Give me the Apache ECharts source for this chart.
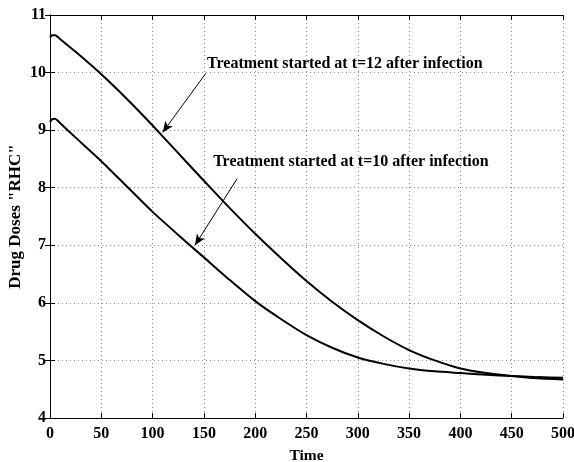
<!DOCTYPE html>
<html>
<head>
<meta charset="utf-8">
<script src="https://cdn.jsdelivr.net/npm/echarts@6/dist/echarts.min.js"></script>
<style>
html,body{margin:0;padding:0;background:#fff;}
#c{width:574px;height:462px;}
</style>
</head>
<body>
<div id="c"></div>
<script>
// ---- data ----
const time  = [0, 2, 5, 10, 25, 50, 75, 100, 125, 150, 175, 200, 225, 250, 275, 300, 325, 350, 375, 400, 425, 450, 475, 500];
const upper = [10.61, 10.65, 10.65, 10.58, 10.36, 9.97, 9.54, 9.08, 8.60, 8.12, 7.65, 7.20, 6.78, 6.38, 6.02, 5.70, 5.42, 5.18, 5.00, 4.86, 4.78, 4.73, 4.69, 4.67];
const lower = [9.14, 9.19, 9.20, 9.12, 8.87, 8.46, 8.02, 7.58, 7.18, 6.79, 6.40, 6.03, 5.72, 5.44, 5.22, 5.05, 4.94, 4.86, 4.81, 4.78, 4.75, 4.73, 4.71, 4.70];
const xTicks = [0, 50, 100, 150, 200, 250, 300, 350, 400, 450, 500];
const yTicks = [4, 5, 6, 7, 8, 9, 10, 11];
const label12 = 'Treatment started at t=12 after infection';
const label10 = 'Treatment started at t=10 after infection';
// annotation anchors in data coordinates
const text12At = [153, 10.15];
const text10At = [159, 8.45];
const arrow12 = [[152, 9.99], [109.8, 8.96]];
const arrow10 = [[182.5, 8.16], [141.3, 7.00]];

const FONT = "'Liberation Serif', 'Times New Roman', serif";
const pairs = (ys) => time.map((t, i) => [t, ys[i]]);

const chart = echarts.init(document.getElementById('c'), null, {renderer: 'canvas'});

const tickLabelStyle = {color: '#000', fontFamily: FONT, fontWeight: 'bold', fontSize: 16};
const gridLine = {show: true, lineStyle: {color: '#8a8a8a', width: 1, type: [1, 3]}};

function annText(coord, txt) {
  return {
    coord: coord, symbol: 'circle', symbolSize: 0, value: txt,
    label: {show: true, position: 'right', distance: 0, formatter: txt,
      color: '#000', fontFamily: FONT, fontWeight: 'bold', fontSize: 16}
  };
}
function annArrow(a) {
  return [{coord: a[0], symbol: 'none'}, {coord: a[1], symbol: 'arrow', symbolSize: [7, 11]}];
}

chart.setOption({
  animation: false,
  backgroundColor: '#fff',
  grid: {left: 50, right: 11, top: 15, bottom: 44, containLabel: false, outerBoundsMode: 'none'},
  xAxis: [{
    type: 'value', min: xTicks[0], max: xTicks[xTicks.length - 1], interval: 50,
    name: 'Time', nameLocation: 'middle', nameGap: 30, nameMoveOverlap: false,
    nameTextStyle: {color: '#000', fontFamily: FONT, fontWeight: 'bold', fontSize: 15.5},
    axisLine: {show: true, lineStyle: {color: '#000', width: 1}},
    axisTick: {show: true, inside: true, length: 5, lineStyle: {color: '#000'}},
    axisLabel: Object.assign({margin: 8}, tickLabelStyle),
    splitLine: gridLine
  }, {
    type: 'value', position: 'top', min: xTicks[0], max: xTicks[xTicks.length - 1], interval: 50,
    axisLine: {show: true, lineStyle: {color: '#000', width: 1}},
    axisTick: {show: true, inside: true, length: 5, lineStyle: {color: '#000'}},
    axisLabel: {show: false}, splitLine: {show: false}
  }],
  yAxis: [{
    type: 'value', min: yTicks[0], max: yTicks[yTicks.length - 1], interval: 1,
    name: 'Drug Doses "RHC"', nameLocation: 'middle', nameGap: 26, nameMoveOverlap: false,
    nameTextStyle: {color: '#000', fontFamily: FONT, fontWeight: 'bold', fontSize: 17},
    axisLine: {show: true, lineStyle: {color: '#000', width: 1}},
    axisTick: {show: true, inside: true, length: 5, lineStyle: {color: '#000'}},
    axisLabel: Object.assign({margin: 4}, tickLabelStyle),
    splitLine: gridLine
  }, {
    type: 'value', position: 'right', min: yTicks[0], max: yTicks[yTicks.length - 1], interval: 1,
    axisLine: {show: true, lineStyle: {color: '#000', width: 1}},
    axisTick: {show: true, inside: true, length: 5, lineStyle: {color: '#000'}},
    axisLabel: {show: false}, splitLine: {show: false}
  }],
  series: [{
    name: 't=12', type: 'line', data: pairs(upper), showSymbol: false, smooth: 0.2,
    lineStyle: {color: '#000', width: 2}, itemStyle: {color: '#000'},
    markPoint: {data: [annText(text12At, label12)], silent: true},
    markLine: {silent: true, symbol: ['none', 'arrow'], label: {show: false},
      lineStyle: {color: '#000', width: 1, type: 'solid'},
      data: [annArrow(arrow12)]}
  }, {
    name: 't=10', type: 'line', data: pairs(lower), showSymbol: false, smooth: 0.2,
    lineStyle: {color: '#000', width: 2}, itemStyle: {color: '#000'},
    markPoint: {data: [annText(text10At, label10)], silent: true},
    markLine: {silent: true, symbol: ['none', 'arrow'], label: {show: false},
      lineStyle: {color: '#000', width: 1, type: 'solid'},
      data: [annArrow(arrow10)]}
  }]
});
</script>
</body>
</html>
